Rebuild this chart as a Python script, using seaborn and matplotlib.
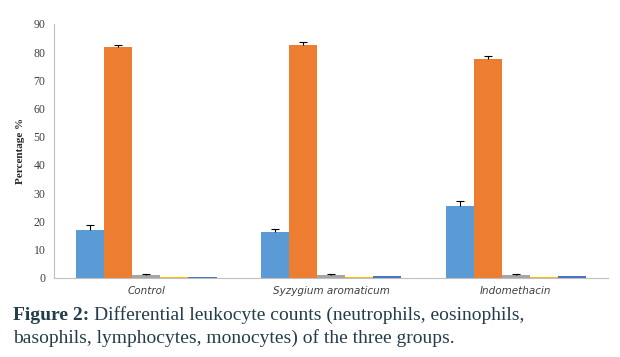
import seaborn as sns
import pandas as pd
import matplotlib.pyplot as plt

# 그룹 / 세포 종류
groups = ['Control', 'Syzygium aromaticum', 'Indomethacin']
cells = ['Neutrophils', 'Eosinophils', 'Basophils', 'Lymphocytes', 'Monocytes']

# 평균 값 (%) - 그룹 순서대로
neutrophils = [16.9, 16.1, 25.4]
eosinophils = [81.7, 82.4, 77.5]
basophils   = [1.0, 0.9, 0.9]
lymphocytes = [0.4, 0.4, 0.4]
monocytes   = [0.4, 0.6, 0.6]

# 표준오차 (위쪽만)
neutrophils_err = [1.8, 1.1, 1.7]
eosinophils_err = [1.0, 1.1, 1.2]
basophils_err   = [0.3, 0.3, 0.3]
lymphocytes_err = [0.0, 0.0, 0.0]
monocytes_err   = [0.0, 0.0, 0.0]

colors = ['#5B9BD5', '#ED7D31', '#A5A5A5', '#FFC000', '#4472C4']

values = [neutrophils, eosinophils, basophils, lymphocytes, monocytes]
errors = [neutrophils_err, eosinophils_err, basophils_err, lymphocytes_err, monocytes_err]

df = pd.DataFrame({
    'group': [g for c in cells for g in groups],
    'cell': [c for c in cells for g in groups],
    'value': [v for vals in values for v in vals],
})

sns.set_style('white')
fig = plt.figure(figsize=(6.2, 3.57), dpi=100)
ax = fig.add_axes([0.087, 0.222, 0.894, 0.711])

sns.barplot(data=df, x='group', y='value', hue='cell', order=groups, hue_order=cells,
            palette=colors, width=0.76, saturation=1, errorbar=None, legend=False,
            linewidth=0, ax=ax)

# 에러바는 막대 위치에서 위쪽으로만 (0이면 안 그림)
for cont, errs in zip(ax.containers, errors):
    if max(errs) == 0:
        continue
    xs = [p.get_x() + p.get_width() / 2 for p in cont]
    ys = [p.get_height() for p in cont]
    eb = ax.errorbar(xs, ys, yerr=[[0] * len(errs), errs], fmt='none', ecolor='black',
                     elinewidth=0.8, capsize=3, capthick=0.8, zorder=3)
    if len(eb[1]) > 0:
        eb[1][0].set_visible(False)

ax.set_ylim(0, 90)
ax.set_yticks(range(0, 91, 10))
ax.set_xlim(-0.5, 2.5)
ax.set_xticks([0, 1, 2])
ax.set_xticklabels(groups, fontstyle='italic', fontsize=7.5, family='DejaVu Sans')
ax.tick_params(axis='x', length=0, pad=6)
ax.set_xticks([-0.5, 0.5, 1.5, 2.5], minor=True)
ax.tick_params(axis='x', which='minor', length=4, color='#BFBFBF', width=0.8)
ax.tick_params(axis='y', length=3, color='#BFBFBF', width=0.8, labelsize=8.5, pad=3)
for lab in ax.get_yticklabels():
    lab.set_family('Liberation Serif')
    lab.set_color('#404040')
for lab in ax.get_xticklabels():
    lab.set_color('#404040')

ax.set_xlabel('')
ax.set_ylabel('Percentage %', fontsize=8, fontweight='bold', family='Liberation Serif', labelpad=6)

for s in ['top', 'right']:
    ax.spines[s].set_visible(False)
ax.spines['left'].set_color('#BFBFBF')
ax.spines['bottom'].set_color('#BFBFBF')
ax.spines['left'].set_linewidth(0.8)
ax.spines['bottom'].set_linewidth(0.8)

# 캡션
cap_color = '#233d4a'
cap_font = 'Liberation Serif'
t1 = fig.text(0.021, 0.104, 'Figure 2:', fontsize=14, fontweight='bold', family=cap_font,
              color=cap_color, va='baseline')
fig.canvas.draw()
bb = t1.get_window_extent(fig.canvas.get_renderer()).transformed(fig.transFigure.inverted())
fig.text(bb.x1 + 0.008, 0.104, 'Differential leukocyte counts (neutrophils, eosinophils,', fontsize=14,
         family=cap_font, color=cap_color, va='baseline')
fig.text(0.021, 0.040, 'basophils, lymphocytes, monocytes) of the three groups.', fontsize=14,
         family=cap_font, color=cap_color, va='baseline')

fig.savefig('out.png', dpi=100)
